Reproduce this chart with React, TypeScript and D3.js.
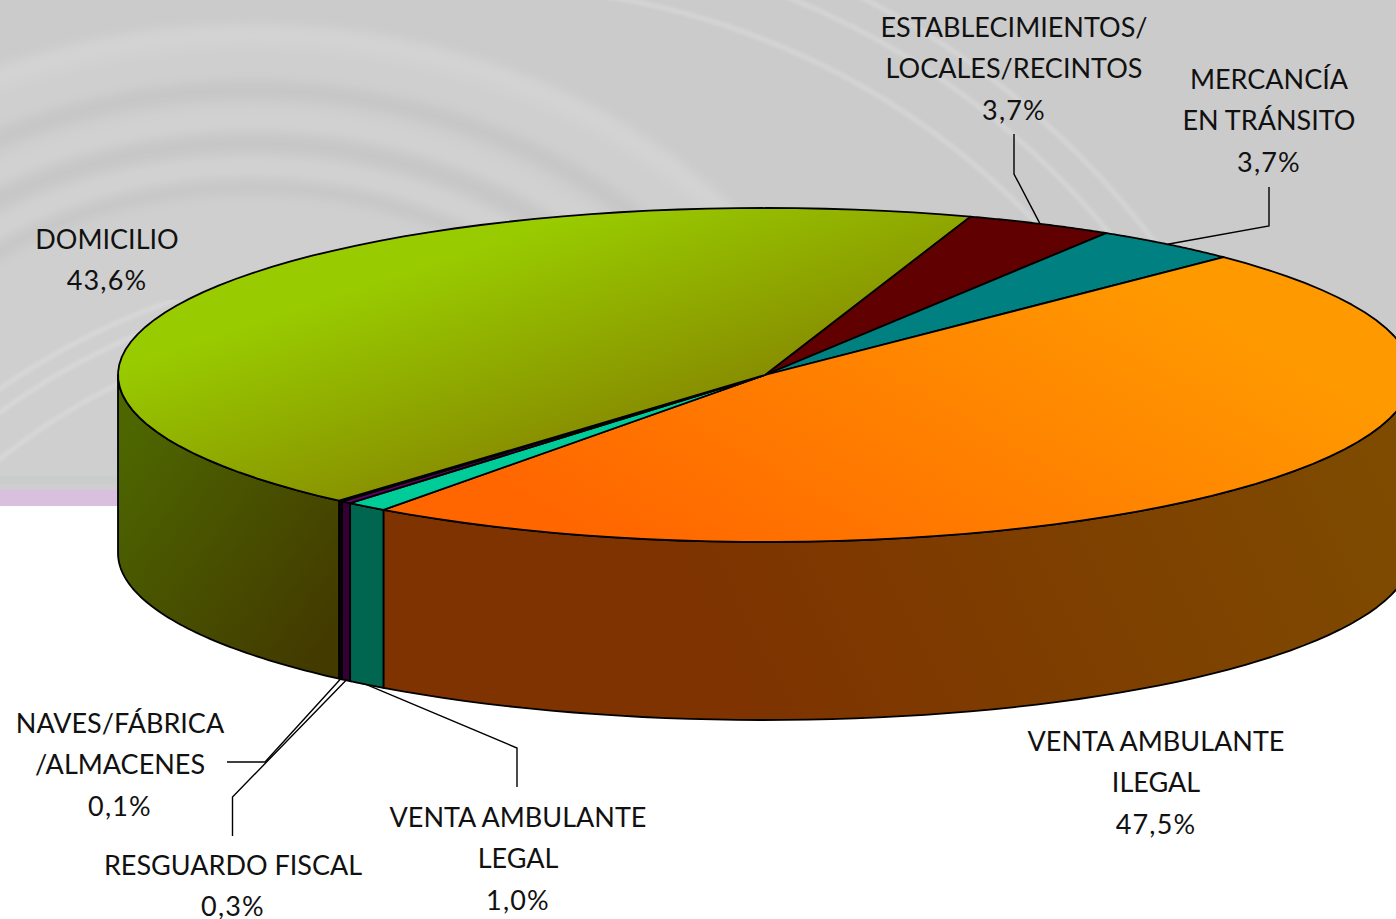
import React, { useMemo } from 'react';
import * as d3 from 'd3';

const WIDTH = 1396;
const HEIGHT = 919;

// values (in %), clockwise from the dark red slice
const categories = [
  'ESTABLECIMIENTOS',
  'MERCANCIA',
  'VENTA_ILEGAL',
  'VENTA_LEGAL',
  'RESGUARDO',
  'NAVES',
  'DOMICILIO',
];
const values = [3.7, 3.7, 47.5, 1.04, 0.26, 0.1, 43.7];
const shownValues = [3.7, 3.7, 47.5, 1.0, 0.3, 0.1, 43.6];

const labelLines = [
  ['ESTABLECIMIENTOS/', 'LOCALES/RECINTOS'],
  ['MERCANCÍA', 'EN TRÁNSITO'],
  ['VENTA AMBULANTE', 'ILEGAL'],
  ['VENTA AMBULANTE', 'LEGAL'],
  ['RESGUARDO FISCAL'],
  ['NAVES/FÁBRICA', '/ALMACENES'],
  ['DOMICILIO'],
];

const topColors = [
  ['#600000', '#5c0000'],
  ['#008080', '#008080'],
  ['#FF9900', '#FF6600'],
  ['#00CC99', '#00CC99'],
  ['#660066', '#660066'],
  ['#1a001a', '#1a001a'],
  ['#99CC00', '#889000'],
];
const sideColors = [
  ['#300000', '#300000'],
  ['#004040', '#004040'],
  ['#7E4C00', '#7E3300'],
  ['#006650', '#006650'],
  ['#330033', '#330033'],
  ['#0a000a', '#0a000a'],
  ['#4D6600', '#433A00'],
];

// label centre x, first baseline y
const labelPos: [number, number][] = [
  [1014, 37],
  [1269, 89],
  [1156, 751],
  [518, 827],
  [233, 875],
  [120, 733],
  [107, 249],
];
// elbow of each leader line, from the label side to the rim
const leaders: ([number, number][] | null)[] = [
  [[1014, 134], [1014, 174]],
  [[1269, 187], [1269, 226]],
  null,
  [[517, 787], [517, 748]],
  [[232.5, 836], [232.5, 797]],
  [[227, 762], [265, 762]],
  null,
];

// background rings, only decoration
const innerRings = [
  { ry: 500, color: '#d3d3d3', w: 22 },
  { ry: 445, color: '#c7c7c7', w: 20 },
  { ry: 415, color: '#d1d1d1', w: 16 },
  { ry: 392, color: '#c7c7c7', w: 20 },
  { ry: 368, color: '#d2d2d2', w: 14 },
  { ry: 348, color: '#c8c8c8', w: 16 },
];
const outerRadii = [757, 805, 835];
const lowerRadii = [711, 692, 655];

const cx = 765;
const cy = 375;
const rx = 647;
const ry = 167;
const depth = 178;
const TAU = Math.PI * 2;
const start = (18.5 / 360) * TAU;

const px = (a: number) => cx + rx * Math.sin(a);
const py = (a: number) => cy - ry * Math.cos(a);
const pct = d3.format('.1f');

const rimPoints = (a0: number, a1: number): [number, number][] =>
  d3.range(0, 61).map((i) => {
    const a = a0 + ((a1 - a0) * i) / 60;
    return [px(a), py(a)];
  });

export default function App() {
  const slices = useMemo(
    () =>
      d3
        .pie<number>()
        .sort(null)
        .startAngle(start)
        .endAngle(start + TAU)(values),
    []
  );
  const line = d3.line();

  return (
    <svg
      width={WIDTH}
      height={HEIGHT}
      style={{ position: 'absolute', left: 0, top: 0, display: 'block', background: '#fff' }}
    >
      <defs>
        <filter id="soft" x="-10%" y="-10%" width="120%" height="120%">
          <feGaussianBlur stdDeviation="5" />
        </filter>
        <filter id="softThin" x="-10%" y="-10%" width="120%" height="120%">
          <feGaussianBlur stdDeviation="1.5" />
        </filter>
        <clipPath id="bgClip">
          <rect x={0} y={0} width={WIDTH} height={476} />
        </clipPath>
        <clipPath id="rightClip">
          <rect x={600} y={0} width={WIDTH - 600} height={300} />
        </clipPath>
        <clipPath id="leftClip">
          <rect x={0} y={300} width={200} height={176} />
        </clipPath>
        <linearGradient id="top6" gradientUnits="userSpaceOnUse" x1={400} y1={270} x2={468} y2={471}>
          <stop offset="0" stopColor={topColors[6][0]} />
          <stop offset="1" stopColor={topColors[6][1]} />
        </linearGradient>
        <linearGradient id="top2" gradientUnits="userSpaceOnUse" x1={1150} y1={280} x2={900} y2={713}>
          <stop offset="0" stopColor={topColors[2][0]} />
          <stop offset="1" stopColor={topColors[2][1]} />
        </linearGradient>
        <linearGradient id="side6" gradientUnits="userSpaceOnUse" x1={118} y1={450} x2={340} y2={620}>
          <stop offset="0" stopColor={sideColors[6][0]} />
          <stop offset="1" stopColor={sideColors[6][1]} />
        </linearGradient>
        <linearGradient id="side2" gradientUnits="userSpaceOnUse" x1={1396} y1={420} x2={760} y2={730}>
          <stop offset="0" stopColor={sideColors[2][0]} />
          <stop offset="1" stopColor={sideColors[2][1]} />
        </linearGradient>
      </defs>

      {/* background */}
      <rect x={0} y={0} width={WIDTH} height={476} fill="#cbcbcb" />
      <rect x={0} y={476} width={WIDTH} height={8} fill="#c9cdcb" />
      <rect x={0} y={484} width={WIDTH} height={6} fill="#cfcdd0" />
      <rect x={0} y={490} width={WIDTH} height={16} fill="#d9c0de" />
      <g clipPath="url(#bgClip)" fill="none">
        <g filter="url(#soft)">
          <ellipse cx={250} cy={535} rx={620} ry={500} fill="#cfcfcf" />
          {innerRings.map((r) => (
            <ellipse
              key={r.ry}
              cx={250}
              cy={535}
              rx={(r.ry * 620) / 500}
              ry={r.ry}
              stroke={r.color}
              strokeWidth={r.w}
            />
          ))}
        </g>
        <g clipPath="url(#rightClip)">
          <g filter="url(#softThin)" stroke="#d4d4d4" strokeWidth={5}>
            {outerRadii.map((r) => (
              <circle key={r} cx={487} cy={744} r={r} />
            ))}
          </g>
        </g>
        <g clipPath="url(#leftClip)">
          <g filter="url(#softThin)" stroke="#d7d7d7" strokeWidth={5}>
            {lowerRadii.map((r) => (
              <circle key={r} cx={407} cy={972} r={r} />
            ))}
          </g>
        </g>
      </g>

      {/* side walls */}
      <g stroke="#000" strokeWidth={1.8} strokeLinejoin="round">
        {slices.map((s, i) => {
          const a0 = Math.max(s.startAngle, Math.PI / 2);
          const a1 = Math.min(s.endAngle, (Math.PI * 3) / 2);
          if (a1 <= a0) return null;
          const upper = rimPoints(a0, a1);
          const lower = upper.map(([x, y]) => [x, y + depth] as [number, number]).reverse();
          const fill = i === 2 || i === 6 ? `url(#side${i})` : sideColors[i][0];
          return <path key={categories[i]} d={`${line([...upper, ...lower])}Z`} fill={fill} />;
        })}
      </g>

      {/* top face */}
      <g stroke="#000" strokeWidth={1.8} strokeLinejoin="round">
        {slices.map((s, i) => {
          const fill = i === 2 || i === 6 ? `url(#top${i})` : topColors[i][0];
          const pts: [number, number][] = [[cx, cy], ...rimPoints(s.startAngle, s.endAngle)];
          return <path key={categories[i]} d={`${line(pts)}Z`} fill={fill} />;
        })}
      </g>

      {/* leader lines */}
      <g fill="none" stroke="#000" strokeWidth={1.4}>
        {slices.map((s, i) => {
          const elbow = leaders[i];
          if (!elbow) return null;
          const mid = (s.startAngle + s.endAngle) / 2;
          const onFront = Math.cos(mid) < 0;
          const end: [number, number] = [px(mid), py(mid) + (onFront ? depth : 0)];
          return <path key={categories[i]} d={line([...elbow, end]) ?? ''} />;
        })}
      </g>

      {/* labels */}
      <g fontFamily="Lato, 'Open Sans', sans-serif" fontSize={27} fill="#111" textAnchor="middle">
        {labelLines.map((lines, i) => (
          <text key={categories[i]} x={labelPos[i][0]} y={labelPos[i][1]}>
            {lines.map((t, j) => (
              <tspan key={j} x={labelPos[i][0]} dy={j === 0 ? 0 : 41.3}>
                {t}
              </tspan>
            ))}
            <tspan x={labelPos[i][0]} dy={41.3} letterSpacing={1.2}>
              {`${pct(shownValues[i]).replace('.', ',')}%`}
            </tspan>
          </text>
        ))}
      </g>
    </svg>
  );
}
